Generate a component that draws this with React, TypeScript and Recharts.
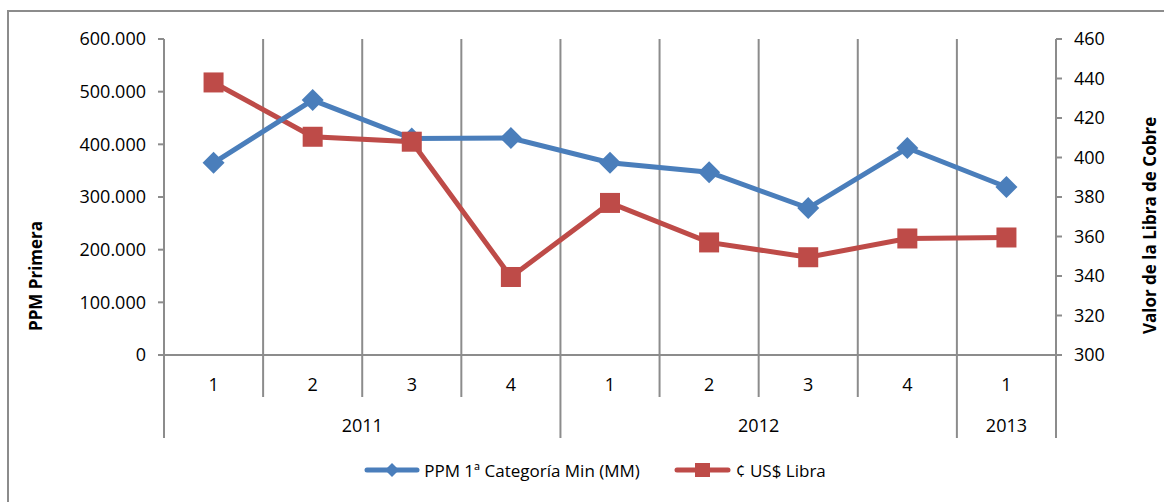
import { Legend, Line, LineChart, ReferenceLine, XAxis, YAxis } from "recharts";

const quarters = ["1", "2", "3", "4", "1", "2", "3", "4", "1"];
const years = [
  { label: "2011", start: 0, end: 4 },
  { label: "2012", start: 4, end: 8 },
  { label: "2013", start: 8, end: 9 },
];
const ppm = [365000, 484000, 411000, 412000, 365000, 347000, 279000, 393000, 319000];
const libra = [438, 410.5, 408, 339.5, 377, 357, 349.5, 359, 359.5];

const leftTicks = [0, 100000, 200000, 300000, 400000, 500000, 600000];
const rightTicks = [300, 320, 340, 360, 380, 400, 420, 440, 460];

const BLUE = "#4A7EBB";
const RED = "#BE4B48";
const GREY = "#8c8c8c";
const FONT = "'Open Sans', sans-serif";

const data = quarters.map((q, i) => ({
  x: i + 0.5,
  q,
  ppm: ppm[i],
  libra: libra[i],
}));

const boundaries = quarters.map((_, i) => i).concat(quarters.length);
const xTicks = boundaries.flatMap((b) => (b < quarters.length ? [b, b + 0.5] : [b]));
const yearEdges = years.map((y) => y.start).concat(years[years.length - 1].end);

const fmtThousands = (v: number) =>
  v === 0 ? "0" : String(v).replace(/\B(?=(\d{3})+(?!\d))/g, ".");

const Diamond = (props: any) => {
  const { cx, cy } = props;
  if (cx == null || cy == null) return null;
  const r = 11;
  return (
    <path
      d={`M${cx},${cy - r} L${cx + r},${cy} L${cx},${cy + r} L${cx - r},${cy} Z`}
      fill={BLUE}
    />
  );
};

const Square = (props: any) => {
  const { cx, cy } = props;
  if (cx == null || cy == null) return null;
  return <rect x={cx - 10} y={cy - 10} width={20} height={20} fill={RED} />;
};

const CategoryTick = (props: any) => {
  const { x, y, payload } = props;
  const v = payload.value as number;
  const out: any[] = [];
  if (Number.isInteger(v)) {
    const isYear = yearEdges.includes(v);
    out.push(
      <line key="l" x1={x} x2={x} y1={y} y2={y + (isYear ? 83 : 42)} stroke={GREY} strokeWidth={2} />
    );
  } else {
    out.push(
      <text key="q" x={x} y={y + 29} textAnchor="middle" dominantBaseline="central" fontSize={18} fontFamily={FONT} fill="#000">
        {quarters[Math.floor(v)]}
      </text>
    );
  }
  years.forEach((yr) => {
    if ((yr.start + yr.end) / 2 === v) {
      out.push(
        <text key={yr.label} x={x} y={y + 70} textAnchor="middle" dominantBaseline="central" fontSize={18} fontFamily={FONT} fill="#000">
          {yr.label}
        </text>
      );
    }
  });
  return <g>{out}</g>;
};

const LegendContent = () => (
  <div
    style={{
      height: 40,
      width: 1164,
      display: "flex",
      alignItems: "center",
      justifyContent: "center",
      paddingLeft: 26,
      boxSizing: "border-box",
      fontFamily: FONT,
      fontSize: 17,
      color: "#000",
    }}
  >
    <svg width={56} height={24}>
      <line x1={3} x2={53} y1={12} y2={12} stroke={BLUE} strokeWidth={5} strokeLinecap="round" />
      <path d="M28,5 L35,12 L28,19 L21,12 Z" fill={BLUE} />
    </svg>
    <span style={{ marginLeft: 4, marginRight: 34 }}>PPM 1ª Categoría Min (MM)</span>
    <svg width={57} height={24}>
      <line x1={3} x2={54} y1={12} y2={12} stroke={RED} strokeWidth={5} strokeLinecap="round" />
      <rect x={21} y={5} width={15} height={14} fill={RED} />
    </svg>
    <span style={{ marginLeft: 5 }}>¢ US$ Libra</span>
  </div>
);

const AxisTitle = (text: string, dx: number, frac: number) => (props: any) => {
  const { viewBox } = props;
  const x = viewBox.x + dx;
  const y = viewBox.y + viewBox.height * frac;
  return (
    <text
      x={x}
      y={y}
      transform={`rotate(-90, ${x}, ${y})`}
      textAnchor="middle"
      dominantBaseline="central"
      fontSize={17}
      fontWeight={700}
      fontFamily={FONT}
      fill="#000"
    >
      {text}
    </text>
  );
};

export default function App() {
  return (
    <div style={{ position: "absolute", left: 0, top: 0, width: 1164, height: 502, overflow: "hidden", background: "#fff" }}>
      <div
        style={{
          position: "absolute",
          left: 7,
          top: 10,
          width: 1300,
          height: 700,
          borderLeft: `2px solid ${GREY}`,
          borderTop: `2px solid ${GREY}`,
        }}
      />
      <div style={{ position: "absolute", left: 0, top: 0 }}>
        <LineChart width={1164} height={502} data={data} margin={{ top: 39, right: 0, left: 0, bottom: 12 }}>
          <XAxis
            type="number"
            dataKey="x"
            domain={[0, quarters.length]}
            ticks={xTicks}
            interval={0}
            tick={<CategoryTick />}
            tickLine={false}
            tickSize={0}
            tickMargin={0}
            height={95}
            axisLine={{ stroke: GREY, strokeWidth: 2 }}
          />
          <YAxis
            yAxisId="left"
            domain={[0, 600000]}
            ticks={leftTicks}
            interval={0}
            width={164}
            tickFormatter={fmtThousands}
            tick={{ fill: "#000", fontSize: 18, fontFamily: FONT }}
            tickMargin={12}
            axisLine={{ stroke: GREY, strokeWidth: 2 }}
            tickLine={{ stroke: GREY, strokeWidth: 2 }}
            label={{ content: AxisTitle("PPM Primera", 35, 0.75) }}
          />
          <YAxis
            yAxisId="right"
            orientation="right"
            domain={[300, 460]}
            ticks={rightTicks}
            interval={0}
            width={108}
            tick={{ fill: "#000", fontSize: 18, fontFamily: FONT }}
            tickMargin={12}
            axisLine={{ stroke: GREY, strokeWidth: 2 }}
            tickLine={{ stroke: GREY, strokeWidth: 2 }}
            label={{ content: AxisTitle("Valor de la Libra de Cobre", 94, 0.59) }}
          />
          {boundaries.slice(1, -1).map((b) => (
            <ReferenceLine key={b} x={b} yAxisId="left" stroke={GREY} strokeWidth={2} />
          ))}
          <Legend verticalAlign="bottom" content={<LegendContent />} />
          <Line
            yAxisId="right"
            dataKey="libra"
            stroke={RED}
            strokeWidth={5}
            dot={false}
            activeDot={false}
            isAnimationActive={false}
          />
          <Line
            yAxisId="left"
            dataKey="ppm"
            stroke={BLUE}
            strokeWidth={5}
            dot={<Diamond />}
            activeDot={false}
            isAnimationActive={false}
          />
          <Line
            yAxisId="right"
            dataKey="libra"
            stroke="none"
            dot={<Square />}
            activeDot={false}
            legendType="none"
            isAnimationActive={false}
          />
        </LineChart>
      </div>
    </div>
  );
}
